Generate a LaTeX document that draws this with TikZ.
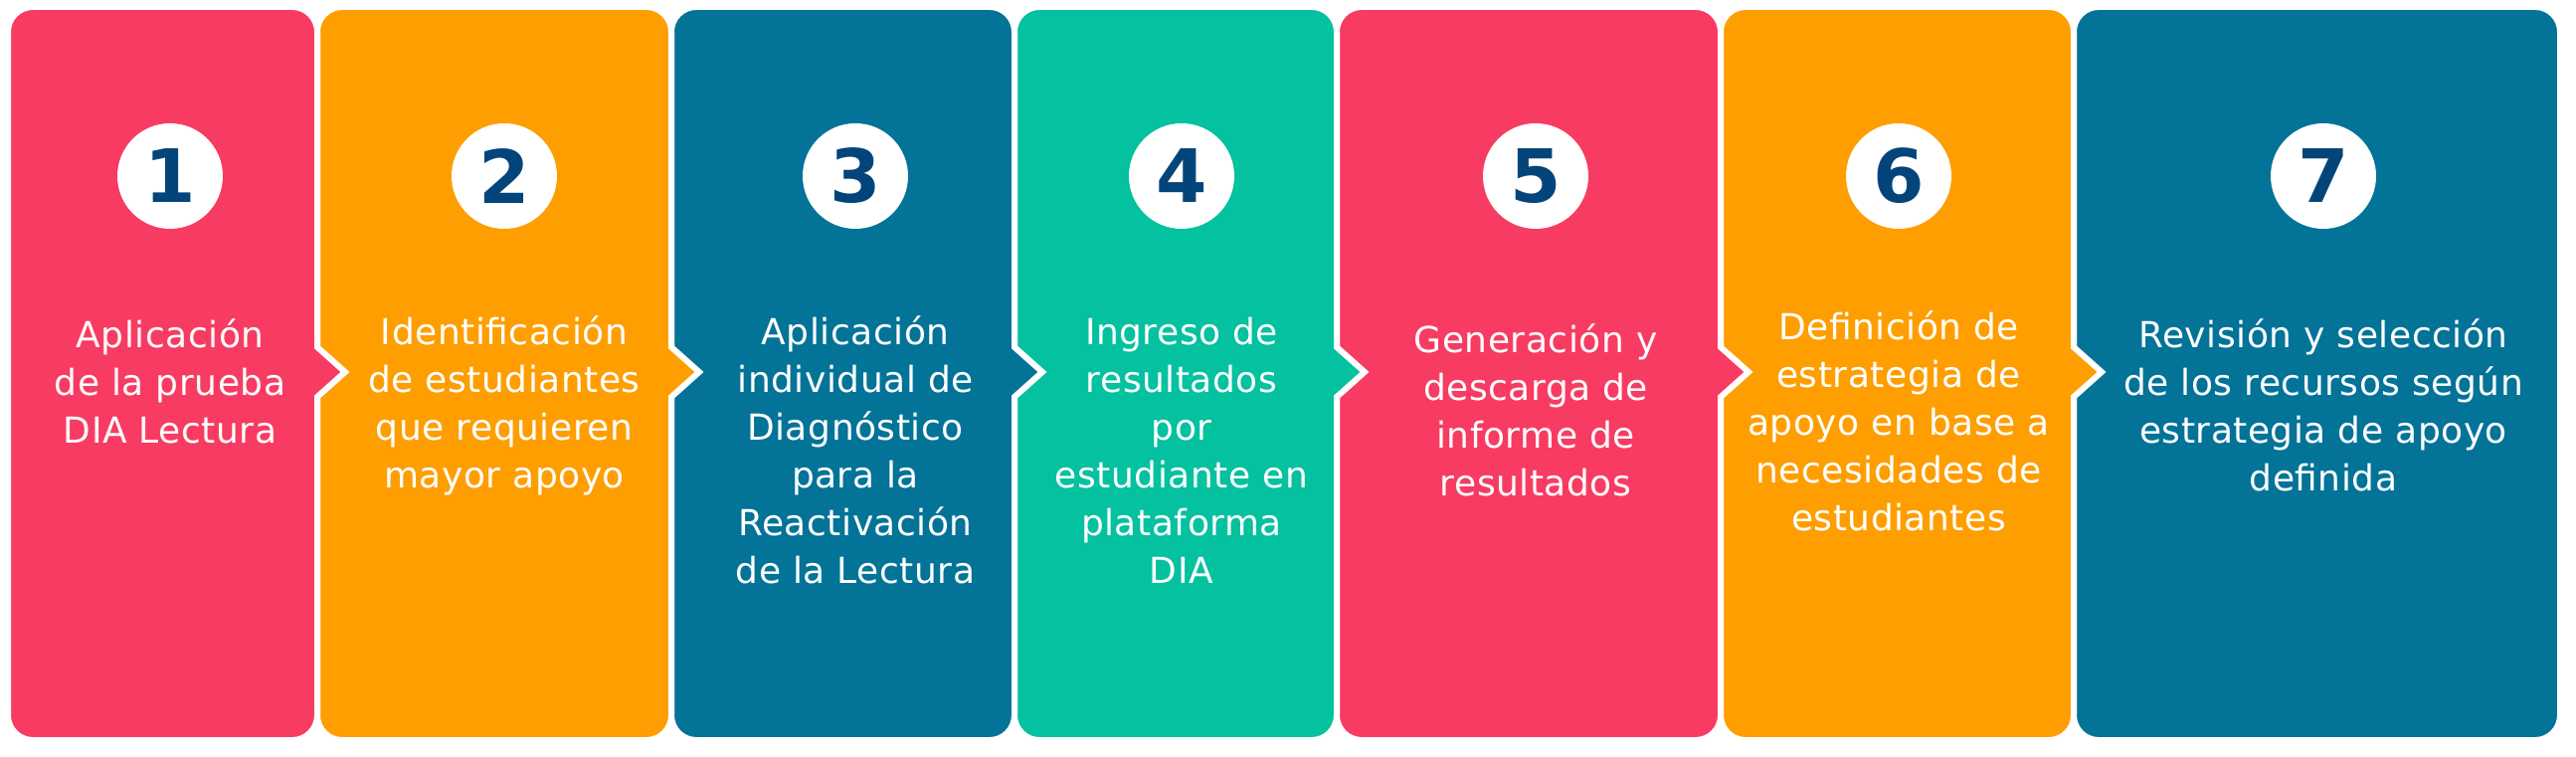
\documentclass[tikz,border=0pt]{standalone}
\usepackage{fontspec}
\setmainfont{DejaVu Sans}[LetterSpace=1.5]
\usepackage{tikz}
\definecolor{diapink}{RGB}{248,59,98}
\definecolor{diaorange}{RGB}{254,158,0}
\definecolor{diablue}{RGB}{3,115,152}
\definecolor{diagreen}{RGB}{4,193,160}
\definecolor{dianavy}{RGB}{3,69,123}
% card with a chevron on its right side: left edge, right edge, colour
\newcommand{\stepcard}[3]{%
  \draw[card, fill=#3] (#1+25,16) -- (#2-25,16) arc[start angle=-90, end angle=0, radius=25pt]
    -- (#2,361) -- (#2+28,386) -- (#2,411) -- (#2,728) arc[start angle=0, end angle=90, radius=25pt]
    -- (#1+25,753) arc[start angle=90, end angle=180, radius=25pt]
    -- (#1,41) arc[start angle=180, end angle=270, radius=25pt] -- cycle;}
\begin{document}
\begin{tikzpicture}[
    x=1pt, y=1pt,
    card/.style={draw=white, line width=6pt, line join=miter},
    num/.style={circle, fill=white, minimum size=106pt, inner sep=0pt, text=dianavy, font=\fontsize{74}{74}\selectfont\bfseries},
    steptext/.style={anchor=north, inner sep=0pt, align=center, text=white, font=\fontsize{36}{48}\selectfont}
]
    \useasboundingbox (0,0) rectangle (2590,760);
    % Cards drawn from right to left so each chevron lies on the next card
    \draw[card, fill=diablue, rounded corners=25pt] (2085,16) rectangle (2574,753);
    \stepcard{1730}{2085}{diaorange}
    \stepcard{1344}{1730}{diapink}
    \stepcard{1020}{1344}{diagreen}
    \stepcard{675}{1020}{diablue}
    \stepcard{319}{675}{diaorange}
    \stepcard{8}{319}{diapink}

    % Step numbers
    \node[num] (n1) at (171,583) {1};
    \node[num] (n2) at (507,583) {2};
    \node[num] (n3) at (860,583) {3};
    \node[num] (n4) at (1188,583) {4};
    \node[num] (n5) at (1544,583) {5};
    \node[num] (n6) at (1909,583) {6};
    \node[num] (n7) at (2336,583) {7};

    % Step texts
    \node[steptext] (t1) at (171,444.6) {\strut Aplicación\\de la prueba\\DIA Lectura};
    \node[steptext] (t2) at (507,447.6) {\strut Identificación\\de estudiantes\\que requieren\\mayor apoyo};
    \node[steptext] (t3) at (860,447.6) {\strut Aplicación\\individual de\\Diagnóstico\\para la\\Reactivación\\de la Lectura};
    \node[steptext] (t4) at (1188,447.6) {\strut Ingreso de\\resultados\\por\\estudiante en\\plataforma\\DIA};
    \node[steptext] (t5) at (1544,439.6) {\strut Generación y\\descarga de\\informe de\\resultados};
    \node[steptext] (t6) at (1909,452.6) {\strut Definición de\\estrategia de\\apoyo en base a\\necesidades de\\estudiantes};
    \node[steptext] (t7) at (2336,444.6) {\strut Revisión y selección\\de los recursos según\\estrategia de apoyo\\definida};
\end{tikzpicture}
\end{document}
